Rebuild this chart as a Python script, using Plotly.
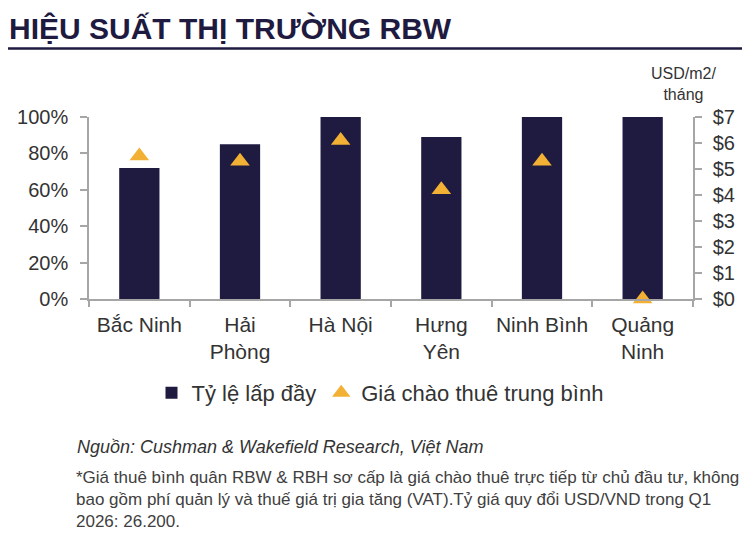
import plotly.graph_objects as go

# data
provinces = ["Bắc Ninh", "Hải<br>Phòng", "Hà Nội", "Hưng<br>Yên", "Ninh Bình", "Quảng<br>Ninh"]
occupancy = [0.72, 0.85, 1.00, 0.89, 1.00, 1.00]
asking_rent = [5.5, 5.3, 6.1, 4.2, 5.3, 0.0]

NAVY = "#1e1a40"
GOLD = "#f2b134"
AXIS = "#a6a6a6"
TXT = "#333333"
FONT = "Liberation Sans, Arial, sans-serif"

# the page body has an 8px margin, so the figure is shrunk and shifted by it
OFF = 8
W, H = 750 - OFF, 538 - OFF
L, R, T, B = 89 - OFF, 57, 117 - OFF, 239
PW, PH = W - L - R, H - T - B


def px_x(px):
    # reference pixel -> paper coordinate
    return (px - OFF - L) / PW


def px_y(py):
    return (H - B - (py - OFF)) / PH


fig = go.Figure()
fig.add_trace(go.Bar(
    x=provinces, y=occupancy, name="Tỷ lệ lấp đầy",
    marker={"color": NAVY, "line": {"width": 0}}, width=0.4,
))
fig.add_trace(go.Scatter(
    x=provinces, y=asking_rent, name="Giá chào thuê trung bình", yaxis="y2",
    mode="markers", cliponaxis=False,
    marker={"symbol": "triangle-up", "size": 17, "color": GOLD},
))

axis_common = dict(
    showgrid=False, zeroline=False, showline=True, linecolor=AXIS, linewidth=1.5,
    ticks="outside", ticklen=7, tickcolor=AXIS, tickwidth=1.5, automargin=False,
    tickfont={"size": 20, "color": TXT, "family": FONT},
)

fig.update_layout(
    width=W, height=H,
    margin={"l": L, "r": R, "t": T, "b": B, "autoexpand": False},
    paper_bgcolor="white", plot_bgcolor="white",
    font={"family": FONT, "color": TXT},
    xaxis=dict(axis_common, type="category", range=[-0.5, 5.5], tickson="boundaries",
               ticklen=6, tickangle=0, ticklabelstandoff=6,
               tickfont={"size": 21, "color": TXT, "family": FONT}),
    yaxis=dict(axis_common, range=[0, 1], dtick=0.2, tickformat=".0%", ticklabelstandoff=8),
    yaxis2=dict(axis_common, range=[0, 7], dtick=1, tickprefix="$", ticklabelstandoff=7,
                overlaying="y", side="right"),
    showlegend=True,
    legend={
        "orientation": "h", "x": px_x(380), "xanchor": "center",
        "y": px_y(393), "yanchor": "middle",
        "font": {"size": 22, "color": TXT, "family": FONT},
        "traceorder": "normal", "itemwidth": 30,
    },
    shapes=[{
        "type": "line", "xref": "paper", "yref": "paper",
        "x0": px_x(3), "x1": px_x(746), "y0": px_y(48.5), "y1": px_y(48.5),
        "line": {"color": NAVY, "width": 2.5},
    }],
    annotations=[
        {
            "text": "<b>HIỆU SUẤT THỊ TRƯỜNG RBW</b>", "xref": "paper", "yref": "paper",
            "x": px_x(7), "y": px_y(28), "xanchor": "left", "yanchor": "middle",
            "showarrow": False, "font": {"size": 30, "color": NAVY},
        },
        {
            "text": "USD/m2/<br>tháng", "xref": "paper", "yref": "paper",
            "x": px_x(683), "y": px_y(84), "xanchor": "center", "yanchor": "middle",
            "showarrow": False, "font": {"size": 16, "color": TXT},
        },
        {
            "text": "<i>Nguồn: Cushman & Wakefield Research, Việt Nam</i>",
            "xref": "paper", "yref": "paper", "x": px_x(75), "y": px_y(447),
            "xanchor": "left", "yanchor": "middle", "align": "left",
            "showarrow": False, "font": {"size": 18, "color": TXT},
        },
        {
            "text": "*Giá thuê bình quân RBW & RBH sơ cấp là giá chào thuê trực tiếp từ chủ đầu tư, không<br>"
                    "bao gồm phí quản lý và thuế giá trị gia tăng (VAT).Tỷ giá quy đổi USD/VND trong Q1<br>"
                    "2026: 26.200.",
            "xref": "paper", "yref": "paper", "x": px_x(74), "y": px_y(466),
            "xanchor": "left", "yanchor": "top", "align": "left",
            "showarrow": False, "font": {"size": 17, "color": "#404040"},
        },
    ],
)

fig.write_html("out.html")
